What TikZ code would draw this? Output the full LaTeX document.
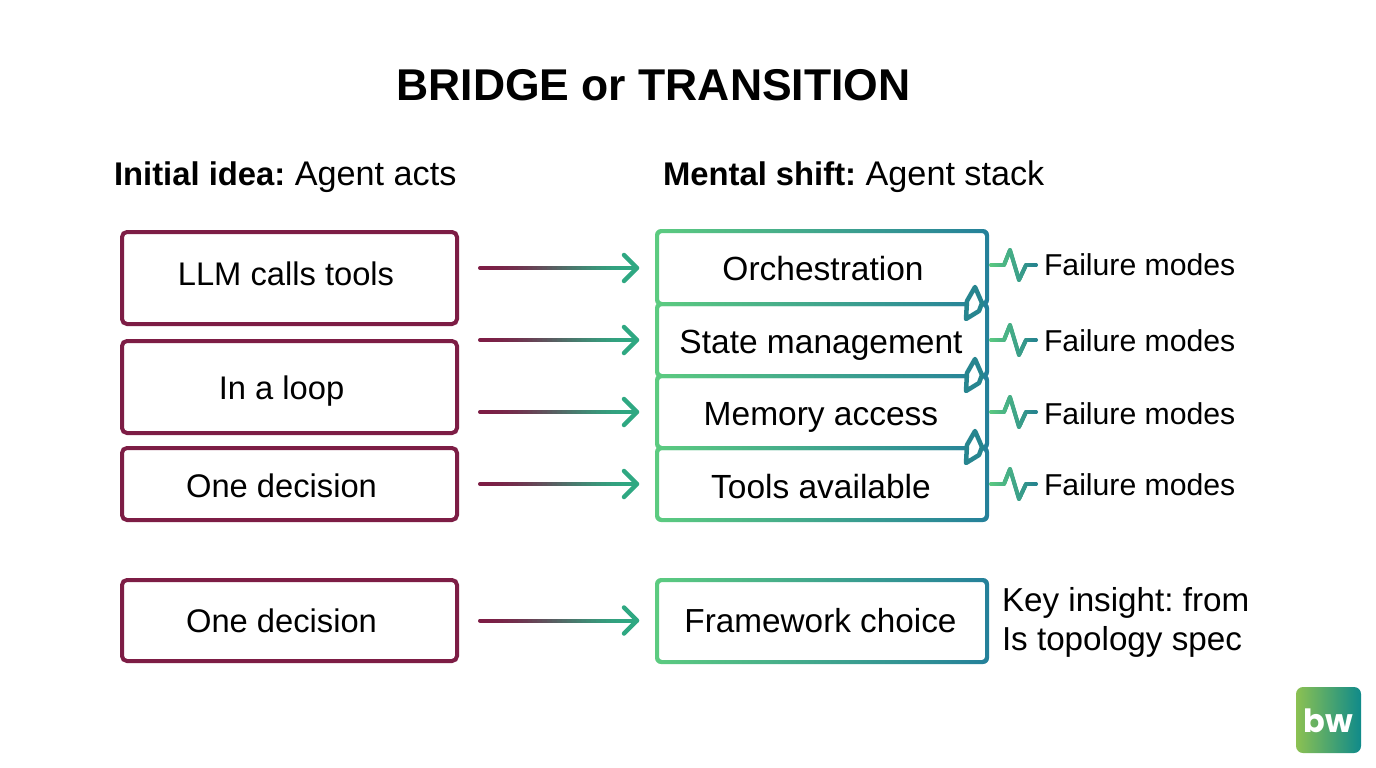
\documentclass[tikz,border=0pt]{standalone}
\usepackage{fontspec}
\setmainfont{Liberation Sans}
\newfontfamily\logofont{Poppins}
\usetikzlibrary{calc}
\definecolor{wine}{HTML}{7D1D45}
\definecolor{agreen}{HTML}{2FA882}
\definecolor{sgreen}{HTML}{5CCB80}
\definecolor{steal}{HTML}{24809A}
\definecolor{cteal}{HTML}{27858F}
\definecolor{lgreen}{HTML}{8CC152}
\definecolor{lteal}{HTML}{0F8A8A}
\newcommand{\hb}[1]{{\bfseries\fontsize{32.8}{40}\selectfont #1}}
\tikzset{
  x=1pt,y=-1pt,
  every node/.style={inner sep=0pt,outer sep=0pt},
  winebox/.style={draw=wine,line width=4pt,rounded corners=5pt},
  gring/.style={even odd rule,left color=sgreen,right color=steal,shading angle=90},
  label/.style={font=\fontsize{33.5}{36}\selectfont,anchor=base,text=black},
  labell/.style={font=\fontsize{32.7}{36}\selectfont,anchor=base,text=black},
  fail/.style={font=\fontsize{30.2}{34}\selectfont,anchor=base west,text=black},
  key/.style={font=\fontsize{33.2}{36}\selectfont,anchor=base west,text=black},
  head/.style={font=\fontsize{34.2}{40}\selectfont,anchor=base west,text=black},
  seg/.style={line width=4pt,line cap=round},
  chev/.style={line width=4.5pt,draw=cteal,fill=white,line cap=round,line join=round},
}
% gradient stroked box: name, x1,y1,x2,y2 of the outer edge
\newcommand{\gbox}[5]{%
  \node[minimum width={#4-#2},minimum height={#5-#3}] (#1) at ({(#2+#4)/2},{(#3+#5)/2}) {};
  \shade[gring,rounded corners=6pt] (#2,#3) rectangle (#4,#5)
    [rounded corners=3pt] ({#2+4},{#3+4}) rectangle ({#4-4},{#5-4});
}
% piecewise gradient segment: from, to, start %, end %, colours
\newcommand{\gseg}[6]{%
  \foreach \i in {1,...,24}{%
    \pgfmathsetmacro{\ta}{(\i-1)/24}%
    \pgfmathsetmacro{\tb}{\i/24}%
    \pgfmathsetmacro{\cm}{(#3)+((#4)-(#3))*(\i-.5)/24}%
    \draw[seg,draw=#6!\cm!#5] ($(#1)!\ta!(#2)$) -- ($(#1)!\tb!(#2)$);%
  }%
}
% arrow whose colour turns from wine to green in an eased way
\newcommand{\garrow}[2]{%
  \foreach \i in {1,...,32}{%
    \pgfmathsetmacro{\ta}{(\i-1)/32}%
    \pgfmathsetmacro{\tb}{\i/32}%
    \pgfmathsetmacro{\tm}{(\i-.5)/32}%
    \pgfmathsetmacro{\cm}{100*(3*\tm*\tm-2*\tm*\tm*\tm)}%
    \draw[seg,draw=agreen!\cm!wine] ($(#1)!\ta!(#2)$) -- ($(#1)!\tb!(#2)$);%
  }%
  \draw[seg,agreen,line width=4.5pt,line join=round] ($(#2)+(-13,-13)$) -- (#2) -- ($(#2)+(-13,13)$);
}
% failure pulse from box to its label
\newcommand{\pulse}[3]{%
  \coordinate (#3p0) at ($(#1.east)+(2,#2)$);
  \coordinate (#3p1) at ($(#3p0)+(13,0)$);
  \coordinate (#3p2) at ($(#3p0)+(19,-15)$);
  \coordinate (#3p3) at ($(#3p0)+(28,15)$);
  \coordinate (#3p4) at ($(#3p0)+(35,0)$);
  \coordinate (#3p5) at ($(#3p0)+(45,0)$);
  \gseg{#3p0}{#3p1}{0}{28}{sgreen}{cteal}
  \gseg{#3p1}{#3p2}{28}{40}{sgreen}{cteal}
  \gseg{#3p2}{#3p3}{40}{60}{sgreen}{cteal}
  \gseg{#3p3}{#3p4}{60}{75}{sgreen}{cteal}
  \gseg{#3p4}{#3p5}{75}{100}{sgreen}{cteal}
}
% chevron at the foot of a stack box
\newcommand{\chevron}[1]{%
  \draw[chev] ($(#1.south east)+(-14,-19)$) -- ($(#1.south east)+(-22,-5)$) -- ($(#1.south east)+(-23,13)$)
     -- ($(#1.south east)+(-10,5)$) -- ($(#1.south east)+(-7,-3)$) -- cycle;
}
\begin{document}
\frenchspacing
\begin{tikzpicture}
\useasboundingbox (0,0) rectangle (1376,768);
\fill[white] (0,0) rectangle (1376,768);

\node[font=\bfseries\fontsize{44.5}{50}\selectfont,anchor=base] (title) at (653.5,100) {BRIDGE or TRANSITION};
\node[head] (hl) at (114,185) {\hb{Initial idea:} Agent acts};
\node[head] (hr) at (663,185) {\hb{Mental shift:} Agent stack};

% left column
\node[winebox,minimum width=335pt,minimum height=92pt] (a1) at (289.5,278) {};
\node[winebox,minimum width=335pt,minimum height=92pt] (a2) at (289.5,387) {};
\node[winebox,minimum width=335pt,minimum height=72pt] (a3) at (289.5,484) {};
\node[winebox,minimum width=335pt,minimum height=81pt] (a4) at (289.5,620.5) {};
\node[labell] (ta1) at (286,285) {LLM calls tools};
\node[labell] (ta2) at (281.5,399) {In a loop};
\node[labell] (ta3) at (281.5,497) {One decision};
\node[labell] (ta4) at (281.5,632) {One decision};

% right column
\gbox{b1}{655}{229}{989}{306}
\gbox{b2}{655}{302}{989}{378}
\gbox{b3}{655}{374}{989}{450}
\gbox{b4}{655}{446}{989}{522}
\gbox{b5}{655}{578}{989}{664}
\node[label] (tb1) at (823,280) {Orchestration};
\node[label] (tb2) at (821,353) {State management};
\node[label] (tb3) at (821,425) {Memory access};
\node[label] (tb4) at (821,498) {Tools available};
\node[label,font=\fontsize{33.3}{36}\selectfont] (tb5) at (820.5,632) {Framework choice};

% chevrons
\chevron{b1}
\chevron{b2}
\chevron{b3}

% arrows
\coordinate (s1) at ($(a1.east)+(23,-10)$);
\coordinate (e1) at ($(b1.west)+(-18,0.5)$);
\coordinate (s2) at ($(a2.north east)+(23,-1)$);
\coordinate (e2) at ($(b2.west)+(-18,0)$);
\coordinate (s3) at ($(a2.south east)+(23,-21)$);
\coordinate (e3) at ($(b3.west)+(-18,0)$);
\coordinate (s4) at ($(a3.east)+(23,0)$);
\coordinate (e4) at ($(b4.west)+(-18,0)$);
\coordinate (s5) at ($(a4.east)+(23,0)$);
\coordinate (e5) at ($(b5.west)+(-18,-0.5)$);
\garrow{s1}{e1}
\garrow{s2}{e2}
\garrow{s3}{e3}
\garrow{s4}{e4}
\garrow{s5}{e5}

% failure modes
\pulse{b1}{-2.5}{f1}
\pulse{b2}{0}{f2}
\pulse{b3}{0}{f3}
\pulse{b4}{0}{f4}
\node[fail] (l1) at (1044,275) {Failure modes};
\node[fail] (l2) at (1044,351) {Failure modes};
\node[fail] (l3) at (1044,424) {Failure modes};
\node[fail] (l4) at (1044,495) {Failure modes};

\node[key] (k1) at (1002,611) {Key insight: from};
\node[key] (k2) at (1002,650) {Is topology spec};

% logo
\shade[left color=lgreen,right color=lteal,rounded corners=7pt] (1296,687) rectangle (1361,753);
\node[font=\logofont\bfseries\fontsize{32}{36}\selectfont,text=white,anchor=base] (logo) at (1328,732) {bw};
\end{tikzpicture}
\end{document}
